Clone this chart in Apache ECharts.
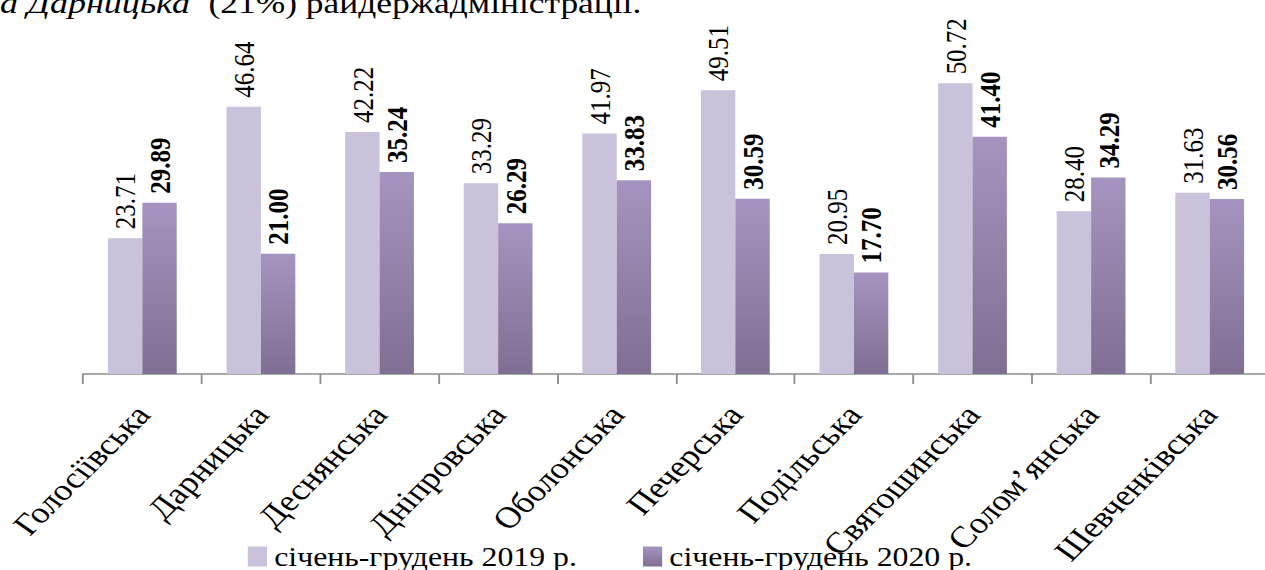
<!DOCTYPE html>
<html>
<head>
<meta charset="utf-8">
<script src="https://cdn.jsdelivr.net/npm/echarts@6/dist/echarts.min.js"></script>
<style>
html, body { margin: 0; padding: 0; background: #fff; overflow: hidden; width: 1265px; height: 570px; }
#chart { width: 1060px; height: 570px; transform: scaleX(1.2); transform-origin: 0 0; }
</style>
</head>
<body>
<div id="chart"></div>
<script>
const categories = ['Голосіївська', 'Дарницька', 'Деснянська', 'Дніпровська', 'Оболонська', 'Печерська', 'Подільська', 'Святошинська', 'Солом’янська', 'Шевченківська'];
const seriesNames = ['січень-грудень 2019 р.', 'січень-грудень 2020 р.'];
const values2019 = [23.71, 46.64, 42.22, 33.29, 41.97, 49.51, 20.95, 50.72, 28.40, 31.63];
const values2020 = [29.89, 21.00, 35.24, 26.29, 33.83, 30.59, 17.70, 41.40, 34.29, 30.56];
const headItalic = 'а Дарницька';
const headNormal = ' (21%) райдержадміністрації.';

const FONT = '"Liberation Serif", "Times New Roman", serif';
const chart = echarts.init(document.getElementById('chart'), null, { renderer: 'svg' });

const labelBase = {
  show: true,
  position: 'top',
  distance: 9,
  rotate: 90,
  align: 'left',
  verticalAlign: 'middle',
  fontFamily: FONT,
  fontSize: 25,
  color: '#000',
  formatter: p => p.value.toFixed(2)
};

chart.setOption({
  animation: false,
  backgroundColor: '#fff',
  graphic: [{
    type: 'text',
    left: 0,
    top: -12,
    style: {
      text: '{i|' + headItalic + '}{n|' + headNormal + '}',
      rich: {
        i: { fontFamily: FONT, fontSize: 30, fontStyle: 'italic', fill: '#000', padding: [0, 8, 0, 0] },
        n: { fontFamily: FONT, fontSize: 29.5, fill: '#000' }
      }
    }
  }],
  grid: { left: 69.2, right: 2.5, top: 30.2, bottom: 196, outerBoundsMode: 'none' },
  legend: {
    left: 206.5,
    top: 543,
    padding: 0,
    itemWidth: 16,
    itemHeight: 20,
    itemGap: 55,
    icon: 'rect',
    textStyle: { fontFamily: FONT, fontSize: 26.5, color: '#000', padding: [0, 0, 0, 1] },
    data: seriesNames
  },
  xAxis: {
    type: 'category',
    data: categories,
    axisLine: { lineStyle: { color: '#8c8c8c', width: 1.5 } },
    axisTick: { show: true, length: 10, lineStyle: { color: '#8c8c8c', width: 1.5 } },
    axisLabel: {
      interval: 0,
      rotate: 50,
      margin: 35,
      fontFamily: FONT,
      fontSize: 30,
      color: '#000'
    }
  },
  yAxis: {
    type: 'value',
    min: 0,
    max: 60,
    show: false,
    splitLine: { show: false }
  },
  series: [
    {
      name: seriesNames[0],
      type: 'bar',
      data: values2019,
      barGap: '0%',
      barCategoryGap: '42%',
      itemStyle: { color: '#cac1da' },
      label: Object.assign({}, labelBase)
    },
    {
      name: seriesNames[1],
      type: 'bar',
      data: values2020,
      barGap: '0%',
      barCategoryGap: '42%',
      itemStyle: {
        color: new echarts.graphic.LinearGradient(0, 0, 0, 1, [
          { offset: 0, color: '#a594bf' },
          { offset: 1, color: '#7f6f93' }
        ])
      },
      label: Object.assign({}, labelBase, { fontWeight: 'bold' })
    }
  ]
});
</script>
</body>
</html>
